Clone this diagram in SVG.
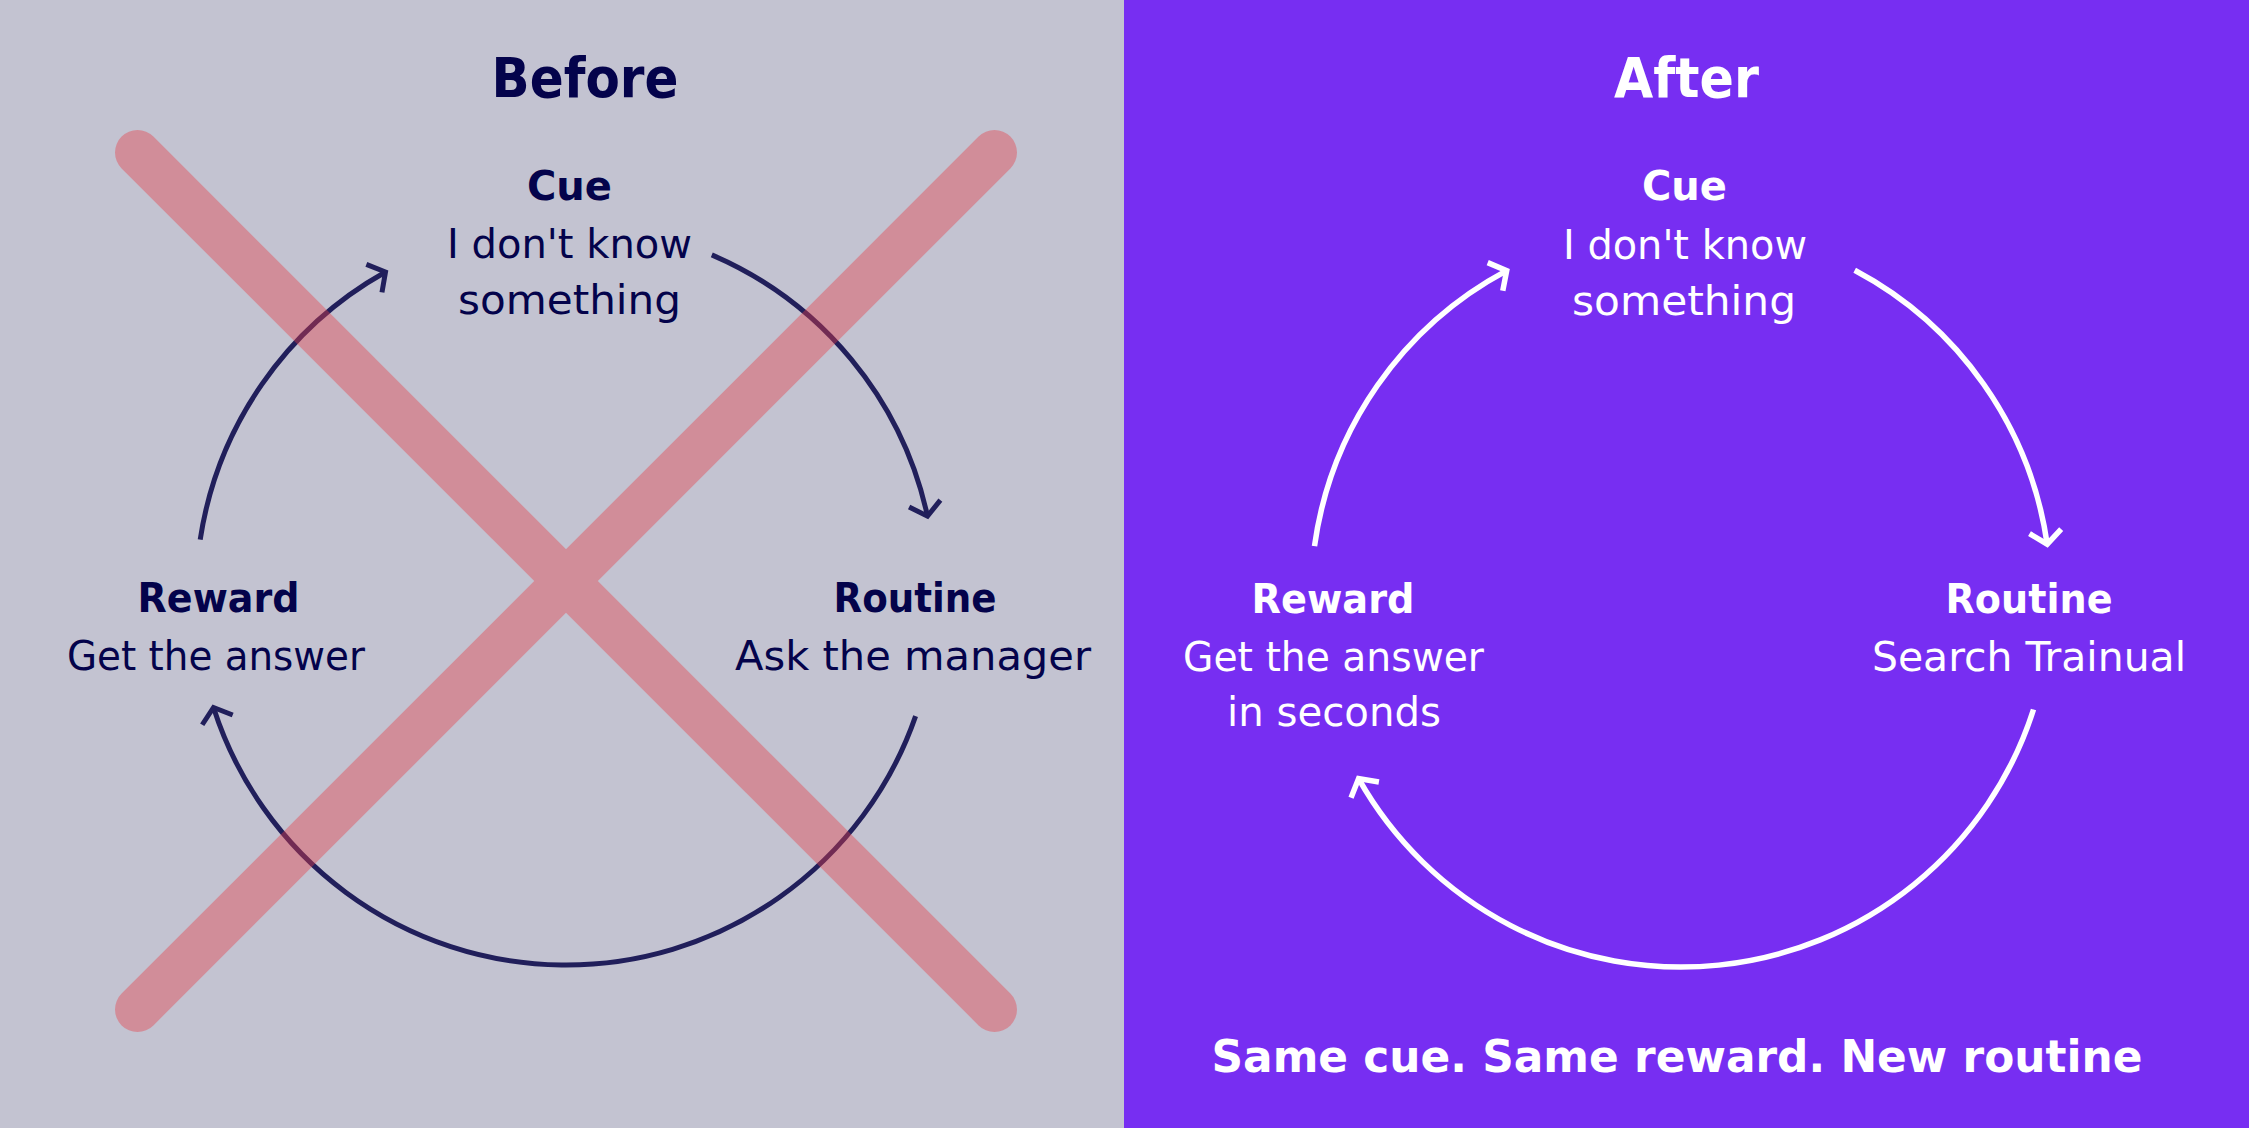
<svg xmlns="http://www.w3.org/2000/svg" width="2249" height="1128" viewBox="0 0 2249 1128">
  <style>
    .t { font-family: "DejaVu Sans", "Liberation Sans", sans-serif; text-anchor: middle; }
    .b { font-weight: bold; }
    .dark { fill: #04034B; }
    .light { fill: #FFFFFF; }
    .title { font-size: 55px; font-weight: bold; }
    .head { font-size: 40px; font-weight: bold; }
    .body { font-size: 40px; }
    .tag { font-size: 44px; font-weight: bold; }
    .arc-dark { fill: none; stroke: #211F5B; stroke-width: 5; marker-end: url(#ah-dark); }
    .arc-light { fill: none; stroke: #FFFFFF; stroke-width: 5.5; marker-end: url(#ah-light); }
    .xline { stroke: #E83E48; stroke-width: 45; stroke-linecap: round; }
  </style>
  <defs>
    <marker id="ah-dark" viewBox="-20 -20 30 40" markerWidth="30" markerHeight="40" refX="0" refY="0" orient="auto" markerUnits="userSpaceOnUse">
      <path d="M-13,-16 L0,0 L-13,16" fill="none" stroke="#211F5B" stroke-width="5"/>
    </marker>
    <marker id="ah-light" viewBox="-20 -20 30 40" markerWidth="30" markerHeight="40" refX="0" refY="0" orient="auto" markerUnits="userSpaceOnUse">
      <path d="M-13,-16 L0,0 L-13,16" fill="none" stroke="#FFFFFF" stroke-width="5.5"/>
    </marker>
  </defs>

  <g id="backgrounds">
    <rect x="0" y="0" width="1124" height="1128" fill="#C3C3D1"/>
    <rect x="1124" y="0" width="1125" height="1128" fill="#772EF2"/>
  </g>

  <g id="connectors">
    <path class="arc-dark" d="M200.2,539.7 A370,370 0 0 1 385.5,272.0"/>
    <path class="arc-dark" d="M711.8,254.9 A370,370 0 0 1 927.5,516.2"/>
    <path class="arc-dark" d="M915.6,716.1 A370,370 0 0 1 213.5,707.5"/>
    <path class="arc-light" d="M1314.5,546.1 A370,370 0 0 1 1506.7,270.6"/>
    <path class="arc-light" d="M1854.7,270.3 A370,370 0 0 1 2047.2,544.2"/>
    <path class="arc-light" d="M2033.5,709.5 A370,370 0 0 1 1358.6,778.6"/>
  </g>

  <g id="before-title">
    <text class="t title dark" x="585" y="97" textLength="187" lengthAdjust="spacingAndGlyphs">Before</text>
  </g>
  <g id="before-cue">
    <text class="t head dark" x="569.5" y="200" textLength="85" lengthAdjust="spacingAndGlyphs">Cue</text>
    <text class="t body dark" x="569.5" y="258" textLength="245" lengthAdjust="spacingAndGlyphs">I don't know</text>
    <text class="t body dark" x="569.5" y="314" textLength="223" lengthAdjust="spacingAndGlyphs">something</text>
  </g>
  <g id="before-reward">
    <text class="t head dark" x="218.5" y="612" textLength="162" lengthAdjust="spacingAndGlyphs">Reward</text>
    <text class="t body dark" x="216" y="670" textLength="298" lengthAdjust="spacingAndGlyphs">Get the answer</text>
  </g>
  <g id="before-routine">
    <text class="t head dark" x="915" y="612" textLength="163" lengthAdjust="spacingAndGlyphs">Routine</text>
    <text class="t body dark" x="913" y="670" textLength="356" lengthAdjust="spacingAndGlyphs">Ask the manager</text>
  </g>

  <g id="before-cross" opacity="0.4">
    <line class="xline" x1="137.5" y1="152.5" x2="994.5" y2="1009.5"/>
    <line class="xline" x1="994.5" y1="152.5" x2="137.5" y2="1009.5"/>
  </g>

  <g id="after-title">
    <text class="t title light" x="1686.5" y="97" textLength="145" lengthAdjust="spacingAndGlyphs">After</text>
  </g>
  <g id="after-cue">
    <text class="t head light" x="1684.5" y="200" textLength="85" lengthAdjust="spacingAndGlyphs">Cue</text>
    <text class="t body light" x="1685" y="259" textLength="244" lengthAdjust="spacingAndGlyphs">I don't know</text>
    <text class="t body light" x="1684" y="315" textLength="224" lengthAdjust="spacingAndGlyphs">something</text>
  </g>
  <g id="after-reward">
    <text class="t head light" x="1333" y="613" textLength="163" lengthAdjust="spacingAndGlyphs">Reward</text>
    <text class="t body light" x="1333.5" y="671" textLength="301" lengthAdjust="spacingAndGlyphs">Get the answer</text>
    <text class="t body light" x="1334" y="726" textLength="214" lengthAdjust="spacingAndGlyphs">in seconds</text>
  </g>
  <g id="after-routine">
    <text class="t head light" x="2029" y="613" textLength="167" lengthAdjust="spacingAndGlyphs">Routine</text>
    <text class="t body light" x="2029" y="671" textLength="314" lengthAdjust="spacingAndGlyphs">Search Trainual</text>
  </g>
  <g id="tagline">
    <text class="t tag light" x="1677" y="1072" textLength="931" lengthAdjust="spacingAndGlyphs">Same cue. Same reward. New routine</text>
  </g>
</svg>
